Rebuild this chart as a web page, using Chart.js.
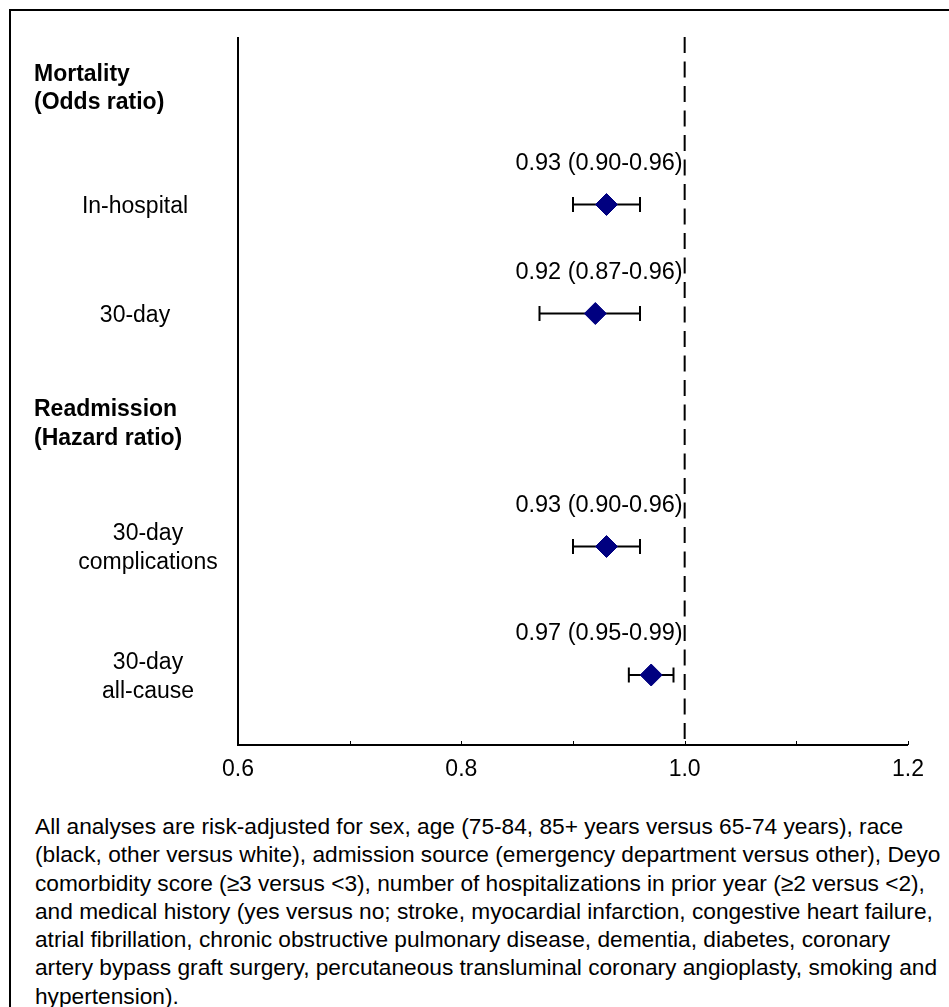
<!DOCTYPE html>
<html>
<head>
<meta charset="utf-8">
<script src="https://cdn.jsdelivr.net/npm/chart.js@4"></script>
<style>
  html, body { margin: 0; padding: 0; background: #fff; overflow: hidden; }
  #frame {
    position: absolute; left: 9px; top: 9px; width: 1000px; height: 1100px;
    border-left: 2px solid #000; border-top: 2px solid #000;
  }
  #chart { position: absolute; left: 0; top: 0; }
  #note {
    position: absolute; left: 35px; top: 812px;
    font-family: "Liberation Sans", Arial, sans-serif; font-size: 22.7px;
    line-height: 28.3px; color: #000; white-space: nowrap;
  }
</style>
</head>
<body>
<div id="frame"></div>
<canvas id="chart" width="949" height="790"></canvas>
<div id="note">
All analyses are risk-adjusted for sex, age (75-84, 85+ years versus 65-74 years), race<br>
(black, other versus white), admission source (emergency department versus other), Deyo<br>
comorbidity score (&ge;3 versus &lt;3), number of hospitalizations in prior year (&ge;2 versus &lt;2),<br>
and medical history (yes versus no; stroke, myocardial infarction, congestive heart failure,<br>
atrial fibrillation, chronic obstructive pulmonary disease, dementia, diabetes, coronary<br>
artery bypass graft surgery, percutaneous transluminal coronary angioplasty, smoking and<br>
hypertension).
</div>
<script>
(function() {
    'use strict';

    // Outcome rows (top to bottom)
    var rowLabels = [['In-hospital'], ['30-day'], ['30-day', 'complications'], ['30-day', 'all-cause']];
    var rowGroup = [0, 0, 1, 1];
    var estimates = [0.93, 0.92, 0.93, 0.97];
    var lowerCI = [0.90, 0.87, 0.90, 0.95];
    var upperCI = [0.96, 0.96, 0.96, 0.99];

    // Vertical slot of each row / group header on the y scale (0 = top)
    var rowPos = [3.35, 5.53, 10.19, 12.76];
    var groupHeaders = [['Mortality', '(Odds ratio)'], ['Readmission', '(Hazard ratio)']];
    var headerPos = [1.0, 7.71];
    var yMax = 14.16;

    // X axis
    var xMin = 0.6;
    var xMax = 1.2;
    var xStep = 0.1;
    var xTickValues = [0.6, 0.8, 1.0, 1.2];
    var xTickLabels = ['0.6', '0.8', '1.0', '1.2'];
    var refValue = 1.0;

    var FONT = '"Liberation Sans", Arial, sans-serif';
    var MARKER = '#000080';

    function fmt(v) { return v.toFixed(2); }

    var whiskerSets = rowPos.map(function(y, i) {
        return {
            type: 'scatter',
            data: [{ x: lowerCI[i], y: y }, { x: upperCI[i], y: y }],
            showLine: true,
            borderColor: '#000',
            borderWidth: 2,
            pointRadius: 0,
            order: 3
        };
    });

    var capPoints = [];
    rowPos.forEach(function(y, i) {
        capPoints.push({ x: lowerCI[i], y: y });
        capPoints.push({ x: upperCI[i], y: y });
    });

    var datasets = [{
        // point estimates
        data: rowPos.map(function(y, i) { return { x: estimates[i], y: y }; }),
        pointStyle: 'rectRot',
        pointRadius: 11,
        backgroundColor: MARKER,
        borderColor: MARKER,
        pointBorderWidth: 1,
        order: 0
    }, {
        // CI caps
        data: capPoints,
        pointStyle: 'line',
        rotation: 90,
        pointRadius: 7.5,
        borderColor: '#000',
        pointBorderWidth: 2,
        order: 1
    }, {
        // reference line at 1.0
        data: [{ x: refValue, y: 0 }, { x: refValue, y: yMax }],
        showLine: true,
        borderColor: '#000',
        borderWidth: 2,
        borderDash: [16, 8.5],
        pointRadius: 0,
        order: 4
    }].concat(whiskerSets);

    var forestText = {
        id: 'forestText',
        afterDraw: function(chart) {
            var ctx = chart.ctx;
            var xs = chart.scales.x;
            var ys = chart.scales.y;
            var area = chart.chartArea;
            var labelCenter = [135, 148];

            ctx.save();
            ctx.strokeStyle = '#000';
            ctx.fillStyle = '#000';

            // axis lines
            ctx.lineWidth = 2;
            ctx.beginPath();
            ctx.moveTo(area.left, area.top);
            ctx.lineTo(area.left, area.bottom);
            ctx.lineTo(area.right, area.bottom);
            ctx.stroke();

            // small inward tick marks
            ctx.lineWidth = 1;
            for (var v = xMin + xStep; v <= xMax + 1e-9; v += xStep) {
                var px = Math.round(xs.getPixelForValue(v)) + 0.5;
                ctx.beginPath();
                ctx.moveTo(px, area.bottom);
                ctx.lineTo(px, area.bottom - 4);
                ctx.stroke();
            }

            // group headers
            ctx.font = 'bold 23px ' + FONT;
            ctx.textAlign = 'left';
            ctx.textBaseline = 'middle';
            groupHeaders.forEach(function(lines, g) {
                var cy = ys.getPixelForValue(headerPos[g]) + 1.5;
                lines.forEach(function(t, k) {
                    ctx.fillText(t, 34, cy + (k - (lines.length - 1) / 2) * 28.5);
                });
            });

            // row labels
            ctx.font = '23px ' + FONT;
            ctx.textAlign = 'center';
            rowLabels.forEach(function(lines, i) {
                var cy = ys.getPixelForValue(rowPos[i]) + 2;
                lines.forEach(function(t, k) {
                    ctx.fillText(t, labelCenter[rowGroup[i]], cy + (k - (lines.length - 1) / 2) * 29);
                });
            });

            // estimate annotations
            ctx.font = '23.5px ' + FONT;
            ctx.textAlign = 'right';
            var rx = xs.getPixelForValue(refValue) - 2;
            rowPos.forEach(function(y, i) {
                var txt = fmt(estimates[i]) + ' (' + fmt(lowerCI[i]) + '-' + fmt(upperCI[i]) + ')';
                ctx.fillText(txt, rx, ys.getPixelForValue(y) - 41);
            });
            ctx.restore();
        }
    };

    new Chart(document.getElementById('chart'), {
        type: 'scatter',
        data: { datasets: datasets },
        plugins: [forestText],
        options: {
            responsive: false,
            animation: false,
            layout: { padding: { left: 238, right: 41, top: 37, bottom: 5 } },
            plugins: { legend: { display: false }, tooltip: { enabled: false } },
            scales: {
                x: {
                    type: 'linear',
                    min: xMin,
                    max: xMax,
                    grid: { display: false, drawTicks: false },
                    border: { display: false },
                    afterFit: function(scale) { scale.height = 40; },
                    ticks: {
                        stepSize: xStep,
                        autoSkip: false,
                        maxRotation: 0,
                        padding: 11,
                        color: '#000',
                        font: { family: FONT, size: 23 },
                        callback: function(value) {
                            for (var i = 0; i < xTickValues.length; i++) {
                                if (Math.abs(value - xTickValues[i]) < 1e-6) return xTickLabels[i];
                            }
                            return '';
                        }
                    }
                },
                y: {
                    type: 'linear',
                    min: 0,
                    max: yMax,
                    reverse: true,
                    display: false
                }
            }
        }
    });
})();
</script>
</body>
</html>
